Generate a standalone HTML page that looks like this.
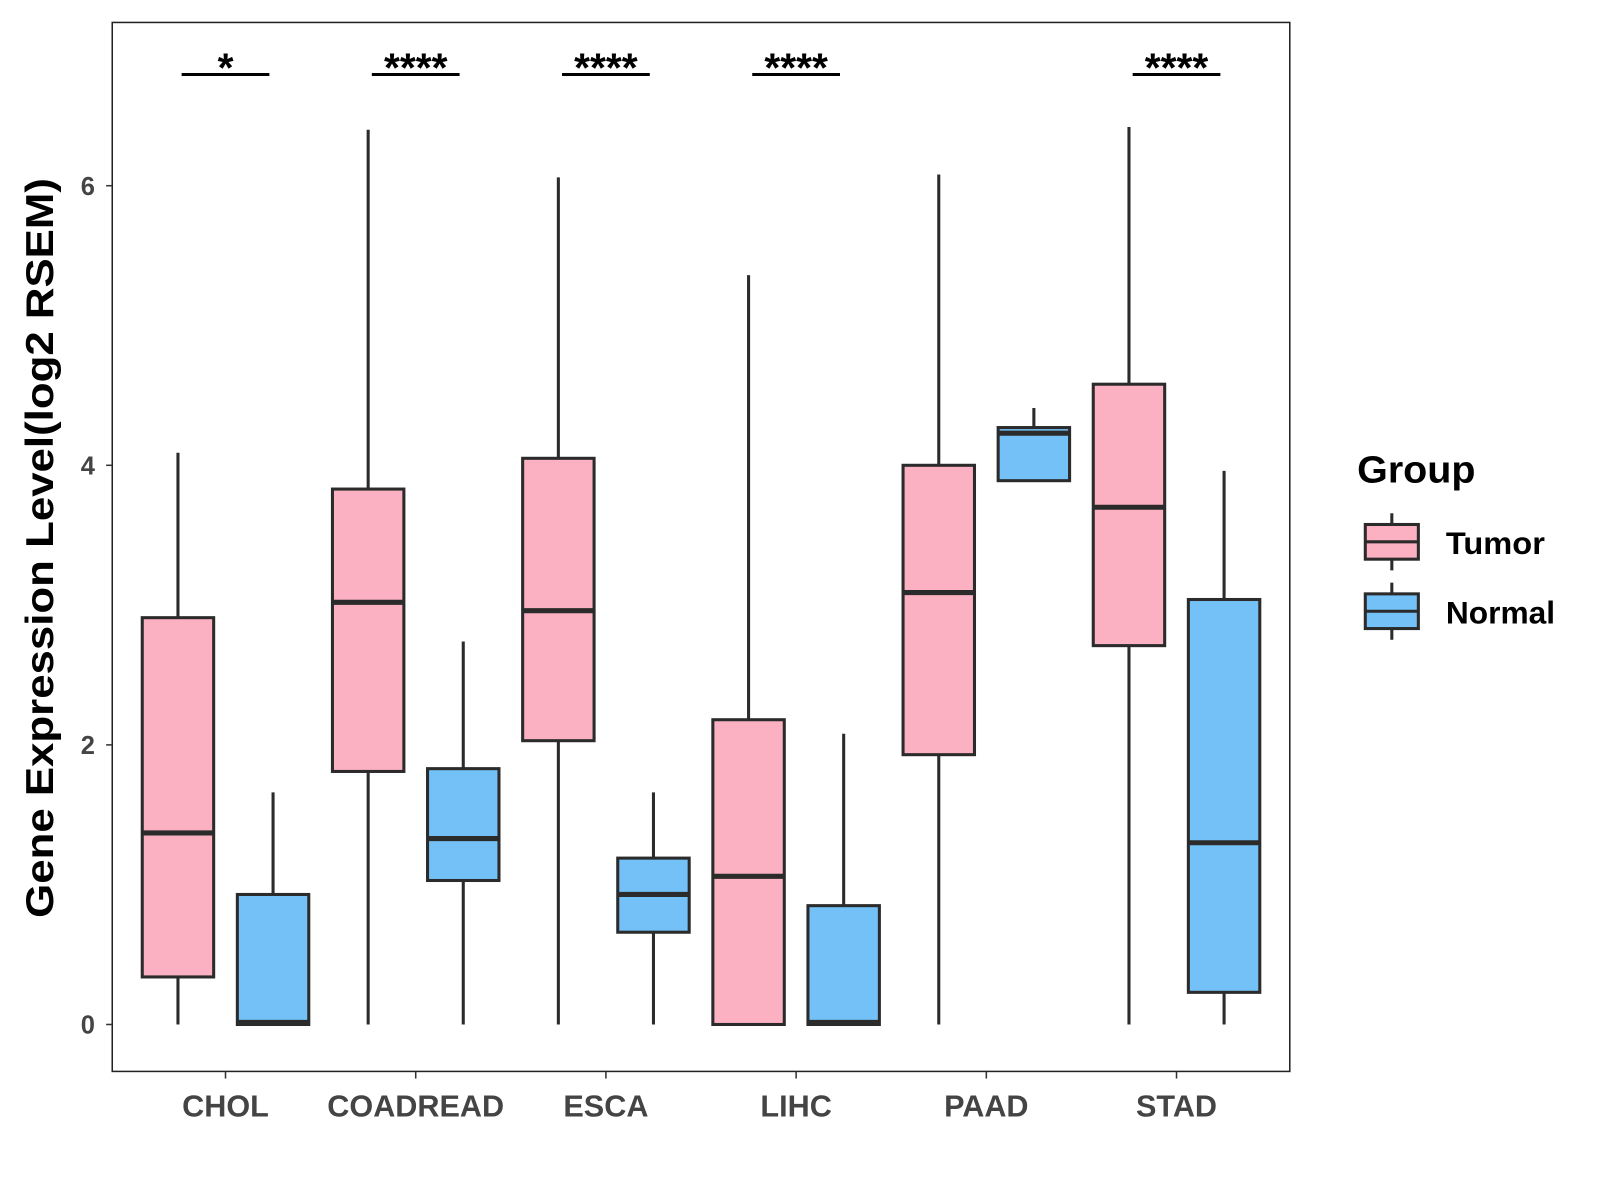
<!DOCTYPE html>
<html><head><meta charset="utf-8"><style>
html,body{margin:0;padding:0;background:#fff;}
svg{display:block;font-family:"Liberation Sans",Arial,sans-serif;}
</style></head><body>
<svg id="chart" width="1600" height="1200" viewBox="0 0 1600 1200" xmlns="http://www.w3.org/2000/svg">
<rect x="0" y="0" width="1600" height="1200" fill="#fff"/>
<g transform="scale(1.0204)">
<rect x="110" y="22" width="1154" height="1028" fill="none" stroke="#222" stroke-width="1.5"/>
<g id="yaxis"></g>
<g id="xaxis"></g>
<g id="boxes"></g>
<g id="sig"></g>
<text x="0" y="0" transform="translate(52,537) rotate(-90)" text-anchor="middle" font-size="38" font-weight="bold" fill="#000" textLength="725" lengthAdjust="spacingAndGlyphs">Gene Expression Level(log2 RSEM)</text>
<g>
<text x="1330" y="473" font-size="37" font-weight="bold" fill="#000" textLength="116" lengthAdjust="spacingAndGlyphs">Group</text>
<g>
<line x1="1364" y1="503" x2="1364" y2="559" stroke="#2b2b2b" stroke-width="3"/>
<rect x="1338" y="514" width="52" height="34" fill="#FBB1C1" stroke="#2b2b2b" stroke-width="3"/>
<line x1="1338" y1="531" x2="1390" y2="531" stroke="#2b2b2b" stroke-width="3"/>
<text x="1417" y="543" font-size="31" font-weight="bold" fill="#000" textLength="97" lengthAdjust="spacingAndGlyphs">Tumor</text>
</g>
<g>
<line x1="1364" y1="571" x2="1364" y2="627" stroke="#2b2b2b" stroke-width="3"/>
<rect x="1338" y="582" width="52" height="34" fill="#74C1F8" stroke="#2b2b2b" stroke-width="3"/>
<line x1="1338" y1="599" x2="1390" y2="599" stroke="#2b2b2b" stroke-width="3"/>
<text x="1417" y="611" font-size="31" font-weight="bold" fill="#000" textLength="107" lengthAdjust="spacingAndGlyphs">Normal</text>
</g>
</g>
</g>
</svg>
<script>
const categories = ["CHOL","COADREAD","ESCA","LIHC","PAAD","STAD"];
// [min, q1, median, q3, max]
const tumorStats = [
  [0,0.34,1.37,2.91,4.09],
  [0,1.81,3.02,3.83,6.40],
  [0,2.03,2.96,4.05,6.06],
  [0,0,1.06,2.18,5.36],
  [0,1.93,3.09,4.00,6.08],
  [0,2.71,3.70,4.58,6.42]
];
const normalStats = [
  [0,0,0.015,0.93,1.66],
  [0,1.03,1.33,1.83,2.74],
  [0,0.66,0.93,1.19,1.66],
  [0,0,0.015,0.85,2.08],
  [3.89,3.89,4.23,4.27,4.41],
  [0,0.23,1.30,3.04,3.96]
];
const sigLabels = ["*","****","****","****","","****"];
const yTicks = [0,2,4,6];

const NS="http://www.w3.org/2000/svg";
function y(v){return 1004 - v*137;}
function xc(i){return 221 + i*186.4;}
function mk(tag,attrs,parent){const e=document.createElementNS(NS,tag);for(const k in attrs)e.setAttribute(k,attrs[k]);parent.appendChild(e);return e;}
const ya=document.getElementById('yaxis'), xa=document.getElementById('xaxis'), bx=document.getElementById('boxes'), sg=document.getElementById('sig');
yTicks.forEach(t=>{
  const l=mk('line',{x1:104,x2:110,y1:y(t),y2:y(t),stroke:'#333','stroke-width':1.5},ya);
  
  
  const tx=mk('text',{x:93,y:y(t)+9,'text-anchor':'end','font-size':25,'font-weight':'bold',fill:'#444'},ya);
  tx.textContent=t;
  
  
});
categories.forEach((c,i)=>{
  const l=mk('line',{x1:xc(i),x2:xc(i),y1:1050,y2:1057,stroke:'#333','stroke-width':1.5},xa);
  
  
  const tx=mk('text',{x:xc(i),y:1094,'text-anchor':'middle','font-size':30,'font-weight':'bold',fill:'#444'},xa);
  tx.textContent=c;
  
  
});
function drawBox(s,cx,fill,name){
  const g=mk('g',{},bx);
  
  
  const w=70;
  mk('line',{x1:cx,x2:cx,y1:y(s[4]),y2:y(s[3]),stroke:'#2b2b2b','stroke-width':3},g);
  mk('line',{x1:cx,x2:cx,y1:y(s[1]),y2:y(s[0]),stroke:'#2b2b2b','stroke-width':3},g);
  mk('rect',{x:cx-w/2,y:y(s[3]),width:w,height:Math.max(y(s[1])-y(s[3]),0.5),fill:fill,stroke:'#2b2b2b','stroke-width':3},g);
  mk('line',{x1:cx-w/2,x2:cx+w/2,y1:y(s[2]),y2:y(s[2]),stroke:'#2b2b2b','stroke-width':5},g);
}
categories.forEach((c,i)=>{
  drawBox(tumorStats[i],xc(i)-46.6,'#FBB1C1','box-tumor-'+c.toLowerCase());
  drawBox(normalStats[i],xc(i)+46.6,'#74C1F8','box-normal-'+c.toLowerCase());
  if(sigLabels[i]){
    const l=mk('line',{x1:xc(i)-43,x2:xc(i)+43,y1:73,y2:73,stroke:'#000','stroke-width':3},sg);
    
    
    const t=mk('text',{x:xc(i),y:80,'text-anchor':'middle','font-size':40,'font-weight':'bold',fill:'#000'},sg);
    t.textContent=sigLabels[i];
    
    
  }
});
</script>
</body></html>
